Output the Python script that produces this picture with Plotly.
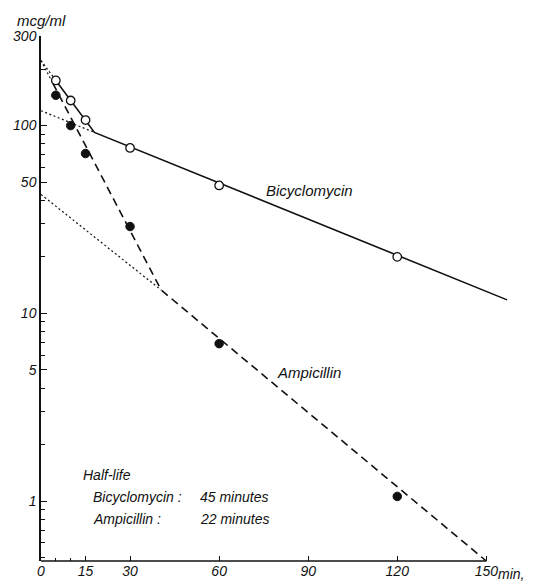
import math
import plotly.graph_objects as go

# Measured serum levels (mcg/ml) at sampling times (min)
time_min = [5, 10, 15, 30, 60, 120]
bicyclomycin = [174, 136, 107, 76, 48, 20]
ampicillin = [145, 100, 71, 29, 6.9, 1.06]

# Hand-drawn fitted lines (vertices)
bicy_fit_t = [5, 18, 157]
bicy_fit_v = [174, 92, 11.8]
bicy_back_t = [0, 5]
bicy_back_v = [222, 174]
bicy_beta_back_t = [0, 18]
bicy_beta_back_v = [120, 92]

amp_fit_t = [4, 40.5, 150]
amp_fit_v = [168, 13.3, 0.48]
amp_back_t = [0, 4]
amp_back_v = [222, 168]
amp_beta_back_t = [0, 40.5]
amp_beta_back_v = [43, 13.3]

x_tickvals = [0, 15, 30, 60, 90, 120, 150]
x_ticktext = ["0", "15", "30", "60", "90", "120", "150"]
x_minor = [5, 10]
y_tickvals = [1, 5, 10, 50, 100, 300]
y_ticktext = ["1", "5", "10", "50", "100", "300"]
y_minor = [0.5, 0.6, 0.7, 0.8, 0.9, 2, 3, 4, 6, 7, 8, 9,
           20, 30, 40, 60, 70, 80, 90, 200]

FONT = "Liberation Sans, Arial, sans-serif"
ink = "#111111"

fig = go.Figure()

dot = dict(color=ink, width=1.2, dash="2px,2.5px")
fig.add_trace(go.Scatter(x=bicy_back_t, y=bicy_back_v, mode="lines", line=dot, hoverinfo="skip"))
fig.add_trace(go.Scatter(x=bicy_beta_back_t, y=bicy_beta_back_v, mode="lines", line=dot, hoverinfo="skip"))
fig.add_trace(go.Scatter(x=amp_back_t, y=amp_back_v, mode="lines", line=dot, hoverinfo="skip"))
fig.add_trace(go.Scatter(x=amp_beta_back_t, y=amp_beta_back_v, mode="lines", line=dot, hoverinfo="skip"))

fig.add_trace(go.Scatter(x=bicy_fit_t, y=bicy_fit_v, mode="lines",
                         line=dict(color=ink, width=1.6), hoverinfo="skip"))
fig.add_trace(go.Scatter(x=amp_fit_t, y=amp_fit_v, mode="lines",
                         line=dict(color=ink, width=1.6, dash="8px,5px"), hoverinfo="skip"))

fig.add_trace(go.Scatter(x=time_min, y=bicyclomycin, mode="markers", name="Bicyclomycin",
                         marker=dict(symbol="circle", size=8.5, color="white",
                                     line=dict(color=ink, width=1.3))))
fig.add_trace(go.Scatter(x=time_min, y=ampicillin, mode="markers", name="Ampicillin",
                         marker=dict(symbol="circle", size=8.5, color=ink,
                                     line=dict(color=ink, width=1))))

# x axis line only spans 0..150
fig.add_shape(type="line", xref="x", yref="paper", x0=0, x1=150, y0=0, y1=0,
              line=dict(color=ink, width=1.5))

tfont = dict(family=FONT, size=14, color=ink, style="italic")
afont = dict(family=FONT, size=14, color=ink, style="italic")

anns = [
    dict(x=90.3, y=45, text="Bicyclomycin", xanchor="center", font=dict(afont, size=15)),
    dict(x=90.3, y=4.87, text="Ampicillin", xanchor="center", font=dict(afont, size=15)),
    dict(x=13.5, y=1.38, text="Half-life", xanchor="left", font=afont),
    dict(x=16.9, y=1.05, text="Bicyclomycin :", xanchor="left", font=afont),
    dict(x=52.9, y=1.05, text="45 minutes", xanchor="left", font=afont),
    dict(x=16.9, y=0.80, text="Ampicillin :", xanchor="left", font=afont),
    dict(x=52.9, y=0.80, text="22 minutes", xanchor="left", font=afont),
]
for a in anns:
    a["y"] = math.log10(a["y"])
    fig.add_annotation(xref="x", yref="y", showarrow=False, yanchor="middle", **a)

fig.add_annotation(xref="paper", yref="paper", x=-0.055, y=1.03, text="mcg/ml",
                   xanchor="left", yanchor="middle", showarrow=False, font=dict(tfont, size=15))
fig.add_annotation(xref="x", yref="paper", x=153.4, y=-0.024, text="min,",
                   xanchor="left", yanchor="middle", showarrow=False, font=dict(tfont, size=14))

# page body has an 8px default margin, so the figure is 8px smaller
fig.update_layout(
    template="none",
    width=525, height=574,
    margin=dict(l=33, r=17, t=28, b=21, autoexpand=False),
    paper_bgcolor="white", plot_bgcolor="white",
    showlegend=False,
    font=dict(family=FONT, color=ink),
    xaxis=dict(range=[0, 160], tickmode="array", tickvals=x_tickvals, ticktext=x_ticktext,
               ticks="inside", ticklen=5, tickwidth=1, tickcolor=ink, automargin=False,
               showgrid=False, zeroline=False, showline=False,
               tickfont=tfont,
               minor=dict(tickmode="array", tickvals=x_minor, ticks="inside", ticklen=3,
                          tickcolor=ink, showgrid=False)),
    yaxis=dict(type="log", range=[math.log10(0.48), math.log10(300)],
               tickmode="array", tickvals=y_tickvals, ticktext=y_ticktext,
               ticks="inside", ticklen=6, tickwidth=1, tickcolor=ink, automargin=False,
               showgrid=False, zeroline=False, showline=True, linecolor=ink, linewidth=1.5,
               tickfont=tfont, ticklabelstandoff=0,
               minor=dict(tickmode="array", tickvals=y_minor, ticks="inside", ticklen=4,
                          tickcolor=ink, showgrid=False)),
)

fig.write_html("out.html")
